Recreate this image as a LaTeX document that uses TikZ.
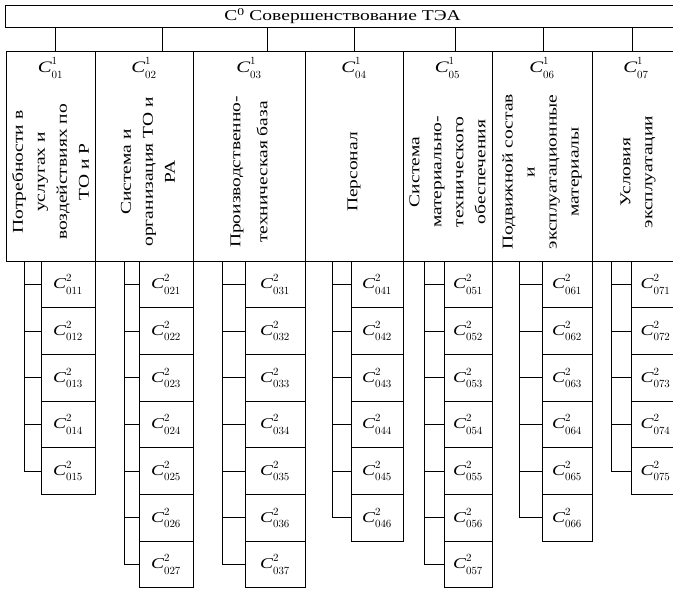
\documentclass[tikz,border=0pt]{standalone}
\usepackage{fontspec}
\setmainfont{Liberation Serif}[FakeStretch=1.3]
\newcommand\clab[2]{$\textit{C}^{\raisebox{1.2pt}{$\scriptstyle #1$}}_{\raisebox{-1.8pt}{$\scriptstyle #2$}}$}
\begin{document}
\begin{tikzpicture}[x=1pt,y=-1pt, line width=0.9pt,
  box/.style={draw, rectangle, inner sep=0pt, outer sep=0pt},
  vtext/.style={rotate=90, align=center, inner sep=0pt, font=\fontsize{15}{22}\selectfont},
  lab/.style={inner sep=0pt, font=\fontsize{15}{18}\selectfont},
  hlab/.style={inner sep=0pt, font=\fontsize{16}{18}\selectfont},
  sub/.style={box, anchor=north west, minimum height=46.7pt, font=\fontsize{15}{16}\selectfont},
]
\clip (0,0) rectangle (673,590);
\fill[white] (0,0) rectangle (673,590);

% top box
\node[box, anchor=north west, minimum width=675pt, minimum height=22pt] (top) at (5,5) {};
\node[lab] (title) at (top.center) {C\textsuperscript{0} Совершенствование ТЭА};

% columns
\foreach \j/\xa/\w in {1/6/89, 2/95/98, 3/193/112, 4/305/98, 5/403/89, 6/492/100, 7/592/88} {
  \node[box, anchor=north west, minimum width=\w pt, minimum height=210pt] (c\j) at (\xa,51) {};
  \node[hlab] (h\j) at ([yshift=-17pt]c\j.north) {\clab{1}{0\j}};
}

% connectors from top box to columns
\foreach \j/\dx in {1/4.5, 2/18, 3/18, 4/0, 5/7.5, 6/1, 7/-4} {
  \draw ([xshift=\dx pt]c\j.north) -- ([xshift=\dx pt]c\j.north |- top.south);
}

% vertical texts
\node[vtext] (t1) at ([yshift=-121pt]c1.north) {Потребности в\\услугах и\\воздействиях по\\ТО и Р};
\node[vtext] (t2) at ([yshift=-121pt,xshift=4pt]c2.north) {Система и\\организация ТО и\\РА};
\node[vtext, font=\fontsize{15}{27}\selectfont] (t3) at ([yshift=-121pt]c3.north) {Производственно-\\техническая база};
\node[vtext] (t4) at ([yshift=-121pt]c4.north) {Персонал};
\node[vtext] (t5) at ([yshift=-121pt]c5.north) {Система\\материально-\\технического\\обеспечения};
\node[vtext] (t6) at ([yshift=-121pt]c6.north) {Подвижной состав\\и\\эксплуатационные\\материалы};
\node[vtext] (t7) at ([yshift=-121pt,xshift=2pt]c7.north) {Условия\\эксплуатации};

% sub boxes with brackets
\foreach \j/\lx/\rx/\cnt/\kx in {1/41/95/5/24, 2/139/193/7/124, 3/245/305/7/222, 4/351/403/6/332, 5/444/492/7/424, 6/542/592/6/519, 7/631/680/5/611} {
  \coordinate (k\j) at (\kx,261);
  \foreach \i in {1,...,\cnt} {
    \node[sub, minimum width=\rx pt-\lx pt] (b\j\i) at (\lx,{261+46.7*(\i-1)}) {\clab{2}{0\j\i}};
    \draw (b\j\i.west) -- (k\j |- b\j\i.west);
  }
  \draw (k\j) -- (k\j |- b\j\cnt.west);
}
\end{tikzpicture}
\end{document}
